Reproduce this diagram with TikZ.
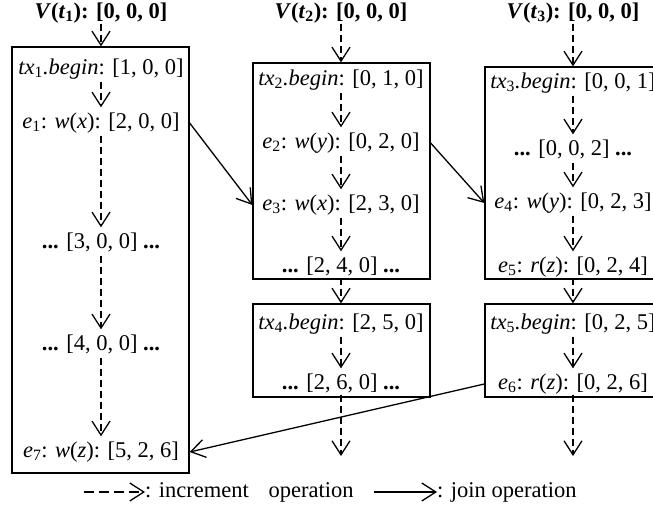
\documentclass[tikz,border=0pt]{standalone}
\usepackage{fontspec}
\setmainfont{Liberation Serif}
\usetikzlibrary{arrows.meta}
\newcommand\txb[1]{\textit{tx}\textsubscript{#1}\textit{.begin}}
\newcommand\ev[1]{\textit{e}\textsubscript{#1}}
\newcommand\hdr[1]{\textbf{\textit{V}(\textit{t}\textsubscript{#1}): [0, 0, 0]}}
\newcommand\dts{\textbf{...}}
\begin{document}
\begin{tikzpicture}[x=1pt,y=-1pt,
 every node/.style={font=\fontsize{22.5}{27}\selectfont},
 lbl/.style={inner sep=0pt, text height=16pt, text depth=5pt},
 frame/.style={draw, line width=1.3pt, inner sep=0pt},
 tipv/.style={-{Straight Barb[length=14pt,width=18pt,line width=1.3pt]}},
 inc/.style={tipv, dash pattern=on 7pt off 4pt, line width=1.3pt},
 incin/.style={inc, shorten >=5pt, shorten <=2pt},
 joinarr/.style={tipv, line width=1.3pt},
]
\useasboundingbox (0,0) rectangle (653,510);
% frames
\node[frame, minimum width=177pt, minimum height=426pt] (B1) at (100.5,260) {};
\node[frame, minimum width=177pt, minimum height=216pt] (B2) at (341.5,171) {};
\node[frame, minimum width=177pt, minimum height=93pt] (B4) at (341.5,350.5) {};
\node[frame, minimum width=177pt, minimum height=212pt] (B3) at (573.5,173) {};
\node[frame, minimum width=177pt, minimum height=93pt] (B5) at (573.5,350.5) {};
% column 1
\node[lbl] (h1) at (101,13) {\hdr{1}};
\node[lbl] (a1) at (101,69) {\txb{1}: [1, 0, 0]};
\node[lbl] (b1) at (101,123) {\ev{1}: \textit{w}(\textit{x}): [2, 0, 0]};
\node[lbl] (c1) at (101,243) {\dts{} [3, 0, 0] \dts};
\node[lbl] (d1) at (101,345) {\dts{} [4, 0, 0] \dts};
\node[lbl] (f1) at (101,452) {\ev{7}: \textit{w}(\textit{z}): [5, 2, 6]};
% column 2
\node[lbl] (h2) at (341,13) {\hdr{2}};
\node[lbl] (a2) at (341,80) {\txb{2}: [0, 1, 0]};
\node[lbl] (b2) at (341,143) {\ev{2}: \textit{w}(\textit{y}): [0, 2, 0]};
\node[lbl] (c2) at (341,205) {\ev{3}: \textit{w}(\textit{x}): [2, 3, 0]};
\node[lbl] (d2) at (341,267) {\dts{} [2, 4, 0] \dts};
\node[lbl] (a4) at (341,324) {\txb{4}: [2, 5, 0]};
\node[lbl] (b4) at (341,384) {\dts{} [2, 6, 0] \dts};
\coordinate (end2) at (341,456);
% column 3
\node[lbl] (h3) at (573,13) {\hdr{3}};
\node[lbl] (a3) at (573,83) {\txb{3}: [0, 0, 1]};
\node[lbl] (b3) at (573,150) {\dts{} [0, 0, 2] \dts};
\node[lbl] (c3) at (573,203) {\ev{4}: \textit{w}(\textit{y}): [0, 2, 3]};
\node[lbl] (d3) at (573,267) {\ev{5}: \textit{r}(\textit{z}): [0, 2, 4]};
\node[lbl] (a5) at (573,324) {\txb{5}: [0, 2, 5]};
\node[lbl] (b5) at (573,384) {\ev{6}: \textit{r}(\textit{z}): [0, 2, 6]};
\coordinate (end3) at (573,456);
% increment arrows
\draw[inc] (h1) -- (h1 |- B1.north);
\draw[incin] (a1) -- (b1);
\draw[incin] (b1) -- (c1);
\draw[incin] (c1) -- (d1);
\draw[incin] (d1) -- (f1);
\draw[inc] (h2) -- (h2 |- B2.north);
\draw[incin] (a2) -- (b2);
\draw[incin] (b2) -- (c2);
\draw[incin] (c2) -- (d2);
\draw[inc] (d2) -- (d2 |- B4.north);
\draw[incin] (a4) -- (b4);
\draw[inc] (b4) -- (end2);
\draw[inc] (h3) -- (h3 |- B3.north);
\draw[incin] (a3) -- (b3);
\draw[incin] (b3) -- (c3);
\draw[incin] (c3) -- (d3);
\draw[inc] (d3) -- (d3 |- B5.north);
\draw[incin] (a5) -- (b5);
\draw[inc] (b5) -- (end3);
% join arrows
\draw[joinarr] (B1.east |- b1) -- (B2.west |- c2);
\draw[joinarr] (B2.east |- b2) -- (B3.west |- c3);
\draw[joinarr] (B5.west |- b5) -- (B1.east |- f1);
% legend
\coordinate (L1) at (84,492);
\coordinate (L2) at (145,492);
\draw[inc, dash pattern=on 10pt off 5pt] (L1) -- (L2);
\node[lbl, anchor=west] (T1) at (L2) {: increment\hspace{14pt} operation};
\coordinate (L3) at (374,492);
\coordinate (L4) at (437,492);
\draw[joinarr] (L3) -- (L4);
\node[lbl, anchor=west] (T2) at (L4) {: join operation};
\end{tikzpicture}
\end{document}
